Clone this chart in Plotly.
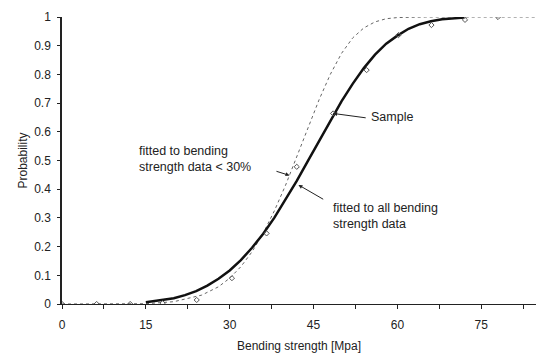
import plotly.graph_objects as go

# Fitted to all bending strength data (solid)
fit_all_x = [15, 18, 20, 22, 24, 26, 28, 30, 32, 34, 36, 38, 40, 42, 44, 46, 48, 50,
             52, 54, 56, 58, 60, 62, 64, 66, 68, 70, 72]
fit_all_y = [0.006, 0.013, 0.020, 0.031, 0.045, 0.064, 0.088, 0.117, 0.153, 0.196, 0.245,
             0.301, 0.363, 0.429, 0.499, 0.569, 0.639, 0.706, 0.767, 0.822, 0.869, 0.907,
             0.935, 0.959, 0.975, 0.985, 0.992, 0.996, 0.998]

# Fitted to bending strength data < 30% (dotted)
fit_low_x = [0, 10, 15, 20, 25, 28, 30, 32, 34, 36, 38, 40, 42, 44, 46, 48, 50, 52,
             54, 56, 58, 60, 65, 85]
fit_low_y = [0.0, 0.0, 0.001, 0.008, 0.031, 0.060, 0.090, 0.130, 0.182, 0.247, 0.325,
             0.414, 0.513, 0.614, 0.712, 0.800, 0.873, 0.927, 0.962, 0.983, 0.994, 0.998,
             1.0, 1.0]

# Sample points
sample_x = [0, 6.2, 12.2, 18, 24.1, 30.4, 36.6, 42, 48.5, 54.5, 60.2, 66.1, 72.1, 78]
sample_y = [0.0, 0.0, 0.0, 0.003, 0.014, 0.09, 0.246, 0.478, 0.664, 0.815, 0.937, 0.972, 0.99, 1.0]

x_ticks = [0, 15, 30, 45, 60, 75]

FONT = "Arial, Liberation Sans, sans-serif"

fig = go.Figure()
fig.add_trace(go.Scatter(x=fit_low_x, y=fit_low_y, mode="lines",
                         line=dict(color="#666666", width=1, dash="dot"),
                         showlegend=False))
fig.add_trace(go.Scatter(x=fit_all_x, y=fit_all_y, mode="lines",
                         line=dict(color="#111111", width=2.5),
                         showlegend=False))
fig.add_trace(go.Scatter(x=sample_x, y=sample_y, mode="markers",
                         marker=dict(symbol="diamond-open", size=4, color="#555555",
                                     line=dict(width=1)),
                         showlegend=False))

ann_font = dict(family=FONT, size=12.5, color="#222222")
arrow_kw = dict(showarrow=True, arrowhead=2, arrowsize=0.8, arrowwidth=1,
                arrowcolor="#222222", axref="x", ayref="y", text="")

fig.add_annotation(x=48.5, y=0.664, ax=54.6, ay=0.648, **arrow_kw)
fig.add_annotation(x=40.7, y=0.448, ax=38.1, ay=0.464, **arrow_kw)
fig.add_annotation(x=42.3, y=0.415, ax=47.0, ay=0.362, **arrow_kw)

fig.add_annotation(x=55.0, y=0.652, text="Sample", showarrow=False,
                   xanchor="left", yanchor="middle", font=ann_font)
fig.add_annotation(x=13.4, y=0.505, text="fitted to bending<br>strength data < 30%",
                   showarrow=False, xanchor="left", yanchor="middle", align="left",
                   font=ann_font)
fig.add_annotation(x=48.1, y=0.307, text="fitted to all bending<br>strength data",
                   showarrow=False, xanchor="left", yanchor="middle", align="left",
                   font=ann_font)

fig.update_layout(
    width=538, height=357,
    margin=dict(l=62, r=2, t=17, b=53),
    paper_bgcolor="white", plot_bgcolor="white",
    font=dict(family=FONT, size=12, color="#222222"),
    showlegend=False,
)
fig.update_xaxes(
    range=[0, 84.8], tickvals=x_ticks, ticks="outside", ticklen=4, tickcolor="#222222",
    ticklabelstandoff=6,
    showgrid=False, zeroline=False, showline=True, linecolor="#222222", linewidth=1,
    minor=dict(ticks="outside", dtick=7.5, ticklen=4, tickcolor="#222222", showgrid=False),
    title=dict(text="Bending strength [Mpa]", font=dict(size=12), standoff=10),
)
fig.update_yaxes(
    range=[0, 1], dtick=0.1, ticks="outside", ticklen=3, tickcolor="#222222",
    ticklabelstandoff=4,
    showgrid=False, zeroline=False, showline=True, linecolor="#222222", linewidth=1.5,
    title=dict(text="Probability", font=dict(size=12), standoff=4),
)

fig.write_html("out.html")
